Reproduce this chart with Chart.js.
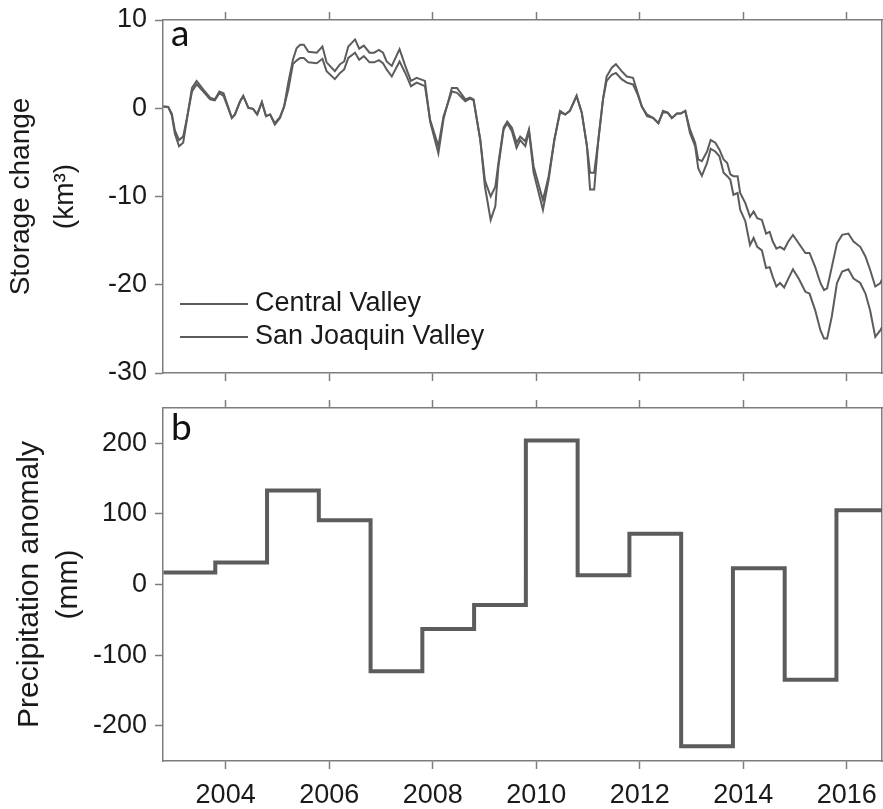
<!DOCTYPE html>
<html>
<head>
<meta charset="utf-8">
<script src="https://cdn.jsdelivr.net/npm/chart.js@4.4.1/dist/chart.umd.min.js"></script>
<style>
  html, body { margin: 0; padding: 0; background: #fff; }
  #wrap { position: relative; width: 883px; height: 809px; }
  canvas { position: absolute; left: 0; }
  #storage { top: 0; }
  #precip { top: 395px; }
</style>
</head>
<body>
<div id="wrap">
  <canvas id="storage" width="883" height="395"></canvas>
  <canvas id="precip" width="883" height="414"></canvas>
</div>
<script>
// ---- Data -------------------------------------------------------------
// Monthly-ish time stamps (decimal year) of the storage series
const years = [
  2002.80, 2002.89, 2002.96, 2003.02, 2003.10, 2003.18, 2003.25, 2003.35, 2003.44, 2003.57,
  2003.70, 2003.79, 2003.88, 2003.96, 2004.12, 2004.18, 2004.28, 2004.34, 2004.44, 2004.53,
  2004.61, 2004.70, 2004.78, 2004.86, 2004.95, 2005.05, 2005.13, 2005.21, 2005.30, 2005.37,
  2005.44, 2005.51, 2005.60, 2005.76, 2005.87, 2005.95, 2006.11, 2006.21, 2006.29, 2006.37,
  2006.50, 2006.58, 2006.67, 2006.78, 2006.87, 2006.96, 2007.04, 2007.11, 2007.21, 2007.36,
  2007.47, 2007.58, 2007.69, 2007.85, 2007.95, 2008.11, 2008.21, 2008.37, 2008.47, 2008.63,
  2008.72, 2008.79, 2008.92, 2009.01, 2009.12, 2009.21, 2009.27, 2009.37, 2009.44, 2009.53,
  2009.62, 2009.69, 2009.79, 2009.86, 2009.95, 2010.13, 2010.24, 2010.35, 2010.46, 2010.56,
  2010.65, 2010.78, 2010.88, 2010.98, 2011.04, 2011.12, 2011.20, 2011.29, 2011.36, 2011.46,
  2011.54, 2011.65, 2011.75, 2011.87, 2011.96, 2012.04, 2012.14, 2012.26, 2012.36, 2012.45,
  2012.54, 2012.62, 2012.72, 2012.79, 2012.88, 2012.97, 2013.07, 2013.13, 2013.20, 2013.30,
  2013.37, 2013.46, 2013.54, 2013.62, 2013.69, 2013.75, 2013.81, 2013.89, 2013.94, 2014.04,
  2014.13, 2014.20, 2014.27, 2014.36, 2014.44, 2014.51, 2014.57, 2014.64, 2014.71, 2014.79,
  2014.87, 2014.96, 2015.07, 2015.20, 2015.28, 2015.39, 2015.49, 2015.56, 2015.62, 2015.71,
  2015.81, 2015.91, 2016.03, 2016.13, 2016.26, 2016.36, 2016.45, 2016.55, 2016.65, 2016.68
];

// Groundwater storage change, km^3
const centralValley = [
  0.2, 0.15, -0.8, -2.9, -4.3, -3.9, -1.3, 2.3, 3.1, 2.1,
  1.2, 1.0, 1.9, 1.7, -1.1, -0.7, 0.8, 1.4, 0.05, -0.07,
  -0.7, 0.7, -0.9, -0.7, -1.85, -1.1, 0.2, 2.9, 5.5, 6.8,
  7.2, 7.2, 6.4, 6.3, 7.0, 5.2, 4.2, 5.0, 5.3, 7.0,
  7.8, 6.75, 7.1, 6.3, 6.3, 6.6, 6.3, 5.3, 4.8, 6.7,
  4.8, 3.1, 3.45, 3.1, -1.5, -5.1, -1.2, 2.3, 2.3, 1.0,
  1.2, 1.0, -3.6, -8.9, -12.65, -11.1, -6.6, -2.4, -1.7, -2.6,
  -4.5, -3.6, -4.3, -2.6, -7.3, -11.5, -8.1, -3.6, -0.5, -0.7,
  -0.3, 1.4, -0.5, -4.3, -9.2, -9.2, -3.6, 1.0, 3.6, 4.6,
  5.0, 4.2, 3.6, 3.45, 1.75, 0.2, -0.9, -1.1, -1.7, -0.45,
  -0.5, -1.1, -0.6, -0.6, -0.3, -2.8, -4.3, -6.8, -7.65, -6.2,
  -4.6, -4.9, -5.45, -7.3, -7.7, -8.1, -9.8, -9.6, -11.5, -12.8,
  -15.5, -14.7, -15.7, -16.1, -18.1, -18.0, -19.1, -20.2, -19.8, -20.3,
  -19.3, -18.25, -19.3, -20.8, -21.0, -22.9, -25.15, -26.1, -26.1, -23.6,
  -19.8, -18.5, -18.25, -19.3, -19.8, -21.0, -22.9, -25.9, -25.15, -24.8
];

const sanJoaquinValley = [
  0.2, 0.15, -0.6, -2.5, -3.6, -3.2, -1.2, 1.9, 2.7, 1.9,
  1.0, 0.9, 1.7, 1.4, -1.1, -0.7, 0.8, 1.4, 0.05, -0.07,
  -0.7, 0.7, -0.9, -0.7, -1.7, -1.0, 0.2, 2.1, 5.0, 5.4,
  5.7, 5.7, 5.2, 5.1, 5.6, 4.2, 3.3, 4.0, 4.4, 5.7,
  6.3, 5.5, 5.9, 5.2, 5.2, 5.45, 5.1, 4.4, 3.6, 5.3,
  4.0, 2.5, 2.9, 2.5, -1.3, -4.3, -0.9, 1.9, 1.75, 0.8,
  1.1, 0.9, -3.6, -8.2, -10.0, -8.9, -6.2, -2.2, -1.5, -2.2,
  -3.9, -3.2, -3.75, -2.4, -6.6, -10.4, -7.7, -3.6, -0.3, -0.7,
  -0.3, 1.4, -0.5, -4.3, -7.3, -7.3, -3.6, 1.0, 3.1, 3.8,
  4.0, 3.3, 2.9, 2.7, 1.55, 0.2, -0.7, -1.1, -1.7, -0.3,
  -0.5, -1.1, -0.6, -0.6, -0.3, -2.4, -3.9, -5.8, -6.0, -4.9,
  -3.6, -3.9, -4.7, -5.8, -6.2, -7.5, -7.7, -7.7, -9.6, -10.75,
  -12.3, -11.7, -12.45, -12.65, -14.2, -14.0, -15.1, -15.9, -15.7, -16.0,
  -15.1, -14.35, -15.3, -16.4, -16.4, -18.0, -19.8, -20.6, -20.4, -18.0,
  -15.3, -14.35, -14.2, -15.1, -15.7, -16.8, -18.3, -20.2, -19.8, -19.4
];

// Water-year precipitation anomaly (mm); each value holds from its start date for one year
const waterYearStart = [2002.8, 2003.8, 2004.8, 2005.8, 2006.8, 2007.8, 2008.8,
                        2009.8, 2010.8, 2011.8, 2012.8, 2013.8, 2014.8, 2015.8];
const precipAnomaly = [17, 31, 133, 91, -123, -63, -29, 204, 13, 72, -229, 23, -135, 105];

// Axis ticks
const yearTicks = [2004, 2006, 2008, 2010, 2012, 2014, 2016];
const storageTicks = [-30, -20, -10, 0, 10];
const precipTicks = [-200, -100, 0, 100, 200];

// ---- Styling -------------------------------------------------------------
const X_MIN = 2002.79, X_MAX = 2016.68;
const FRAME = '#7d7d7d';
const LINE = '#5c5c5c';
const TEXT = '#1a1a1a';
const FONT = "'Liberation Sans', Arial, sans-serif";

Chart.defaults.font.family = FONT;
Chart.defaults.color = TEXT;

const toTicks = list => list.map(v => ({ value: v }));

function xAxis(position, showLabels, height) {
  return {
    type: 'linear', position, min: X_MIN, max: X_MAX,
    afterBuildTicks: ax => { ax.ticks = toTicks(yearTicks); },
    ticks: { display: showLabels, callback: v => String(v), font: { size: 27 },
             color: TEXT, padding: 10, maxRotation: 0, autoSkip: false },
    grid: { display: true, drawOnChartArea: false, drawTicks: true, tickLength: 8,
            tickWidth: 1.5, tickColor: FRAME },
    border: { display: true, color: FRAME, width: 1.5 },
    afterFit: ax => { ax.height = height; ax.paddingLeft = 0; ax.paddingRight = 0; }
  };
}

function yAxis(min, max, tickList, title) {
  return {
    type: 'linear', position: 'left', min, max,
    afterBuildTicks: ax => { ax.ticks = toTicks(tickList); },
    ticks: { callback: v => String(v), font: { size: 27 }, color: TEXT, padding: 8 },
    grid: { display: true, drawOnChartArea: false, drawTicks: true, tickLength: 8,
            tickWidth: 1.5, tickColor: FRAME },
    border: { display: true, color: FRAME, width: 1.5 },
    title,
    afterFit: ax => { ax.width = 163; ax.paddingTop = 0; ax.paddingBottom = 0; }
  };
}

function rightEdge(min, max) {
  return {
    type: 'linear', position: 'right', min, max,
    ticks: { display: false },
    grid: { display: true, drawOnChartArea: false, drawTicks: false },
    border: { display: true, color: FRAME, width: 1.5 },
    afterFit: ax => { ax.width = 1; ax.paddingTop = 0; ax.paddingBottom = 0; }
  };
}

// Panel letter and an in-plot legend drawn on top of the series
const panelDecor = {
  id: 'panelDecor',
  afterDraw(chart, args, opts) {
    const { ctx, chartArea } = chart;
    ctx.save();
    ctx.fillStyle = '#111';
    ctx.textBaseline = 'alphabetic';
    ctx.textAlign = 'left';
    ctx.font = "37px Lato, 'Open Sans', sans-serif";
    ctx.fillText(opts.letter, chartArea.left + 8, chartArea.top + opts.letterBaseline);
    if (opts.legend) {
      ctx.font = '27px ' + FONT;
      ctx.textBaseline = 'middle';
      chart.data.datasets.forEach((ds, i) => {
        const y = chartArea.top + 284 + i * 33;
        const x0 = chartArea.left + 17;
        ctx.strokeStyle = ds.borderColor;
        ctx.lineWidth = ds.borderWidth;
        ctx.beginPath();
        ctx.moveTo(x0, y);
        ctx.lineTo(x0 + 68, y);
        ctx.stroke();
        ctx.fillStyle = TEXT;
        ctx.fillText(ds.label, x0 + 75, y);
      });
    }
    ctx.restore();
  }
};

// ---- Panel a: storage change -------------------------------------------
new Chart(document.getElementById('storage'), {
  type: 'line',
  data: {
    datasets: [
      { label: 'Central Valley',
        data: years.map((x, i) => ({ x, y: centralValley[i] })),
        borderColor: LINE, borderWidth: 2, pointRadius: 0, tension: 0 },
      { label: 'San Joaquin Valley',
        data: years.map((x, i) => ({ x, y: sanJoaquinValley[i] })),
        borderColor: LINE, borderWidth: 2, pointRadius: 0, tension: 0 }
    ]
  },
  options: {
    responsive: false, animation: false, devicePixelRatio: 1,
    layout: { padding: 0, autoPadding: false },
    plugins: {
      legend: { display: false }, tooltip: { enabled: false },
      panelDecor: { letter: 'a', letterBaseline: 26, legend: true }
    },
    scales: {
      x: xAxis('bottom', false, 22),
      xTop: xAxis('top', false, 20),
      y: yAxis(-30, 10, storageTicks, {
        display: true, text: ['Storage change', '(km³)'], color: TEXT,
        font: { size: 28, lineHeight: 1.55 }, padding: { top: 0, bottom: 0 }
      }),
      yRight: rightEdge(-30, 10)
    }
  },
  plugins: [panelDecor]
});

// ---- Panel b: precipitation anomaly -------------------------------------
const stepPoints = waterYearStart.map((x, i) => ({ x, y: precipAnomaly[i] }));
stepPoints.push({ x: waterYearStart[waterYearStart.length - 1] + 1,
                  y: precipAnomaly[precipAnomaly.length - 1] });

new Chart(document.getElementById('precip'), {
  type: 'line',
  data: {
    datasets: [
      { label: 'Precipitation anomaly', data: stepPoints, stepped: 'before',
        borderColor: LINE, borderWidth: 4, pointRadius: 0 }
    ]
  },
  options: {
    responsive: false, animation: false, devicePixelRatio: 1,
    layout: { padding: 0, autoPadding: false },
    plugins: {
      legend: { display: false }, tooltip: { enabled: false },
      panelDecor: { letter: 'b', letterBaseline: 32, legend: false }
    },
    scales: {
      x: xAxis('bottom', true, 48),
      xTop: xAxis('top', false, 13),
      y: yAxis(-250, 250, precipTicks, {
        display: true, text: ['Precipitation anomaly', '(mm)'], color: TEXT,
        font: { size: 30, lineHeight: 1.3 }, padding: { top: 10, bottom: 0 }
      }),
      yRight: rightEdge(-250, 250)
    }
  },
  plugins: [panelDecor]
});
</script>
</body>
</html>
